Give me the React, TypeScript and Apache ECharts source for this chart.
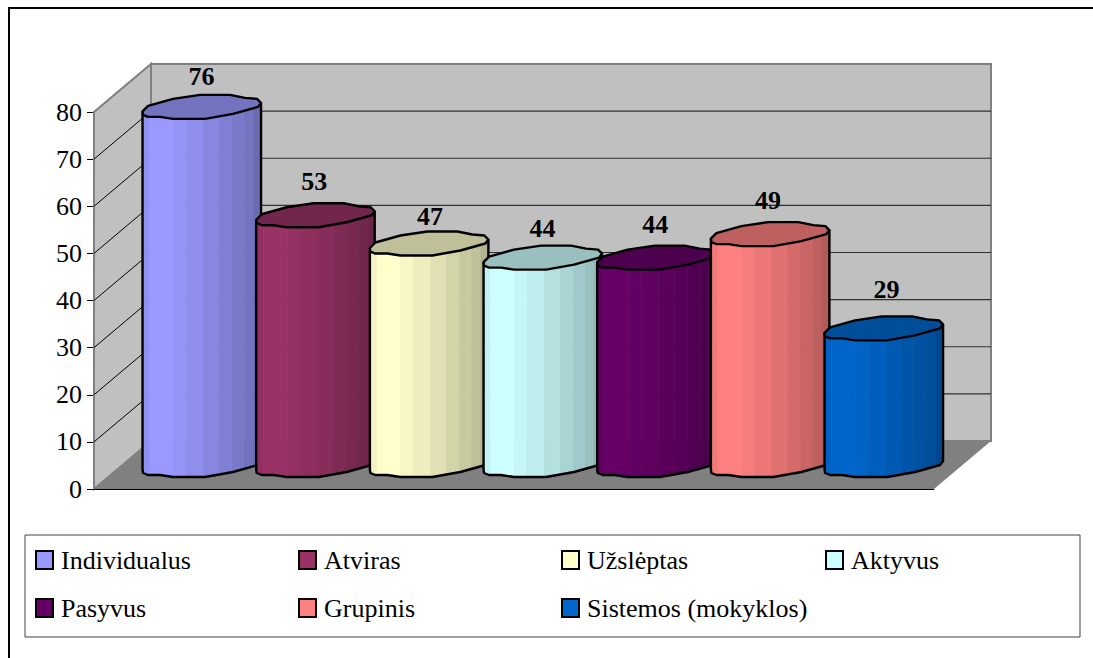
import React, { useEffect, useRef } from "react";
import * as echarts from "echarts";

const categories = ["Individualus", "Atviras", "Užslėptas", "Aktyvus", "Pasyvus", "Grupinis", "Sistemos (mokyklos)"];
const values = [76, 53, 47, 44, 44, 49, 29];
const colors = ["#9999FF", "#993366", "#FFFFCC", "#CCFFFF", "#660066", "#FF8080", "#0066CC"];
const labelLift = [30, 34, 27, 29, 33, 34, 39];
const labelShift = [0, -1, 1, 0, -1, -2, 3];
const yTicks = [0, 10, 20, 30, 40, 50, 60, 70, 80];

const FONT = '"Liberation Serif", "Times New Roman", serif';
const DEPTH_X = 57;
const DEPTH_Y = 48;
const MID_DEPTH_Y = 24;

// Outline of a cylinder's cap, relative to its centre (pixels).
const capUpper: number[][] = [[-59, 4.5], [-53.5, -1], [-28.5, -8], [-1.5, -12], [28.5, -12], [43.5, -9], [55.5, -8], [59.5, -4]];
const capLower: number[][] = [[-59, 4.5], [-58.5, 8], [-53.5, 10], [-41.5, 10], [-28.5, 12], [3.5, 12], [31.5, 7], [56.5, 0], [59.5, -4]];
const stripEdges = [-59, -52, -28, -15, 2, 18, 31, 43, 52, 59.5];
const stripShade = [0.95, 1, 0.97, 0.93, 0.88, 0.83, 0.79, 0.75, 0.7];
const CAP_SHADE = 0.75;

function shade(hex: string, f: number) {
  const n = parseInt(hex.slice(1), 16);
  const c = [(n >> 16) & 255, (n >> 8) & 255, n & 255].map((v) => Math.round(v * f));
  return `rgb(${c[0]},${c[1]},${c[2]})`;
}

function lowerY(x: number) {
  for (let i = 0; i < capLower.length - 1; i++) {
    const [x0, y0] = capLower[i];
    const [x1, y1] = capLower[i + 1];
    if (x >= x0 && x <= x1) return y0 + ((y1 - y0) * (x - x0)) / (x1 - x0 || 1);
  }
  return 0;
}

const offset = (pts: number[][], c: number[]) => pts.map((p) => [p[0] + c[0], p[1] + c[1]]);

function renderCylinder(params: any, api: any) {
  const i = api.value(0);
  const v = api.value(1);
  const topPt = api.coord([i, v]);
  const basePt = api.coord([i, 0]);
  const top = [topPt[0], topPt[1] - MID_DEPTH_Y];
  const base = [basePt[0], basePt[1] - MID_DEPTH_Y];
  const color = colors[i];
  const children: any[] = [];

  stripShade.forEach((f, k) => {
    const x0 = stripEdges[k];
    const x1 = stripEdges[k + 1];
    const xs = [x0, ...capLower.map((p) => p[0]).filter((x) => x > x0 && x < x1), x1];
    const curve = xs.map((x) => [x, lowerY(x)]);
    const points = [...offset(curve, top), ...offset(curve, base).reverse()];
    const fill = shade(color, f);
    children.push({ type: "polygon", shape: { points }, style: { fill, stroke: fill, lineWidth: 0.6 } });
  });

  const rightTip = capLower[capLower.length - 1];
  const leftTip = capLower[0];
  const bodyOutline = [
    [rightTip[0] + top[0], rightTip[1] + top[1]],
    ...offset(capLower.slice().reverse(), base),
    [leftTip[0] + top[0], leftTip[1] + top[1]],
  ];
  children.push({
    type: "polyline",
    shape: { points: bodyOutline },
    style: { fill: "none", stroke: "#000", lineWidth: 2.4, lineJoin: "round" },
  });
  const cap = [...capUpper, ...capLower.slice(1, -1).reverse()];
  children.push({
    type: "polygon",
    shape: { points: offset(cap, top) },
    style: { fill: shade(color, CAP_SHADE), stroke: "#000", lineWidth: 2.4, lineJoin: "round" },
  });
  children.push({
    type: "text",
    style: {
      text: String(v),
      x: top[0] + labelShift[i],
      y: top[1] - labelLift[i],
      fill: "#000",
      fontSize: 26,
      fontWeight: "bold",
      fontFamily: FONT,
      textAlign: "center",
      textVerticalAlign: "middle",
    },
  });
  return { type: "group", children };
}

function renderFrame(params: any, api: any) {
  const v = api.value(1);
  const r = params.coordSys;
  const left = r.x;
  const right = r.x + r.width;
  const y = api.coord([0, v])[1];
  const children: any[] = [];
  if (params.dataIndex === 0) {
    const yTop = api.coord([0, yTicks[yTicks.length - 1]])[1];
    children.push({
      type: "polygon",
      shape: { points: [[left, y], [left + DEPTH_X, y - DEPTH_Y], [left + DEPTH_X, yTop - DEPTH_Y], [left, yTop]] },
      style: { fill: "#C0C0C0", stroke: "#808080", lineWidth: 2 },
    });
    children.push({
      type: "polygon",
      shape: { points: [[left + DEPTH_X, y - DEPTH_Y], [right + DEPTH_X, y - DEPTH_Y], [right + DEPTH_X, yTop - DEPTH_Y], [left + DEPTH_X, yTop - DEPTH_Y]] },
      style: { fill: "#C0C0C0", stroke: "#808080", lineWidth: 2 },
    });
    children.push({
      type: "polygon",
      shape: { points: [[left, y], [right, y], [right + DEPTH_X, y - DEPTH_Y], [left + DEPTH_X, y - DEPTH_Y]] },
      style: { fill: "#808080" },
    });
  } else if (v < yTicks[yTicks.length - 1]) {
    children.push({
      type: "line",
      shape: { x1: left, y1: y, x2: left + DEPTH_X, y2: y - DEPTH_Y },
      style: { stroke: "#000", lineWidth: 1 },
    });
    children.push({
      type: "line",
      shape: { x1: left + DEPTH_X, y1: y - DEPTH_Y, x2: right + DEPTH_X, y2: y - DEPTH_Y },
      style: { stroke: "#303030", lineWidth: 1.2 },
    });
  }
  return { type: "group", children };
}

const legendLeft = [35, 298, 561, 825];
const legendTop = [552, 600];

export default function App() {
  const ref = useRef<HTMLDivElement>(null);
  useEffect(() => {
    const chart = echarts.init(ref.current!, undefined, { renderer: "svg" });
    const option: any = {
      animation: false,
      backgroundColor: "#fff",
      grid: [
        { left: 94, top: 112, width: 840, height: 377 },
        { left: 144.7, top: 112, width: 795.7, height: 377 },
      ],
      xAxis: [
        {
          type: "category",
          gridIndex: 0,
          data: [""],
          axisLine: { show: true, lineStyle: { color: "#000", width: 1 } },
          axisTick: { show: false },
          axisLabel: { show: false },
          z: 3,
        },
        { type: "category", gridIndex: 1, data: categories, show: false },
      ],
      yAxis: [
        {
          type: "value",
          gridIndex: 0,
          min: 0,
          max: 80,
          interval: 10,
          axisLine: { show: true, lineStyle: { color: "#808080", width: 1 } },
          axisTick: { show: true, length: 7, lineStyle: { color: "#000", width: 1 } },
          axisLabel: { fontSize: 26, fontFamily: FONT, color: "#000", margin: 12, padding: [0, 0, 3, 0] },
          splitLine: { show: false },
        },
        { type: "value", gridIndex: 1, min: 0, max: 80, interval: 10, show: false },
      ],
      legend: categories.map((name, i) => ({
        data: [name],
        left: legendLeft[i % 4],
        top: legendTop[Math.floor(i / 4)] - 5,
        padding: 0,
        itemWidth: 17,
        itemHeight: 18,
        icon: "rect",
        selectedMode: false,
        itemStyle: { borderColor: "#000", borderWidth: 2 },
        textStyle: { fontSize: 26, fontFamily: FONT, color: "#000", padding: [0, 0, 2, 3] },
      })),
      graphic: [
        {
          type: "polyline",
          shape: { points: [[9, 660], [9, 8], [1095, 8]] },
          style: { fill: "none", stroke: "#000", lineWidth: 2 },
        },
        {
          type: "rect",
          shape: { x: 25, y: 535, width: 1055, height: 102 },
          style: { fill: "none", stroke: "#404040", lineWidth: 1 },
        },
      ],
      series: [
        {
          type: "custom",
          name: "frame",
          xAxisIndex: 0,
          yAxisIndex: 0,
          z: 1,
          silent: true,
          data: yTicks.map((t) => [0, t]),
          encode: { x: 0, y: 1 },
          renderItem: renderFrame,
        },
        ...categories.map((name, i) => ({
          type: "custom",
          name,
          xAxisIndex: 1,
          yAxisIndex: 1,
          z: 2,
          silent: true,
          itemStyle: { color: colors[i] },
          data: [[i, values[i]]],
          encode: { x: 0, y: 1 },
          renderItem: renderCylinder,
        })),
      ],
    };
    chart.setOption(option);
    return () => chart.dispose();
  }, []);
  return <div ref={ref} style={{ position: "fixed", left: 0, top: 0, width: 1093, height: 658 }} />;
}
